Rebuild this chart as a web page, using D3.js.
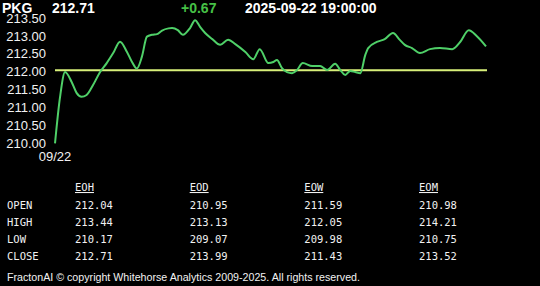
<!DOCTYPE html>
<html>
<head>
<meta charset="utf-8">
<script src="https://cdn.jsdelivr.net/npm/d3@7"></script>
<style>
  body { margin: 0; background: #000; }
  svg { display: block; }
</style>
</head>
<body>
<div id="chart"></div>
<script>
// minutes into the hour (19:00 -> 20:00) and price
var minutes = [0, 0.7, 1.4, 2.3, 3.0, 3.7, 4.4, 5.3, 6.3, 7.2, 8.1, 9.05, 10.0, 10.7, 11.4, 12.1,
  12.8, 13.5, 14.2, 14.9, 15.8, 16.3, 17.1, 17.8, 18.8, 19.5, 20.2, 20.9, 21.9, 23.0, 24.1,
  25.1, 26.5, 27.6, 28.5, 29.7, 30.4, 30.9, 31.6, 32.3, 33.0, 33.7, 34.5, 35.8, 36.9, 37.9,
  39.0, 39.7, 40.4, 41.1, 41.8, 42.5, 43.2, 43.6, 44.8, 45.9, 47.05, 48.0, 48.7, 49.7, 50.8,
  52.2, 53.6, 55.3, 56.4, 57.6, 58.7, 60];
var prices = [210.00, 211.29, 211.99, 211.72, 211.41, 211.30, 211.35, 211.63, 212.00, 212.24,
  212.52, 212.84, 212.56, 212.28, 212.09, 212.42, 212.98, 213.03, 213.05, 213.15, 213.21,
  213.22, 213.16, 213.03, 213.22, 213.44, 213.25, 213.08, 212.91, 212.75, 212.89, 212.77,
  212.55, 212.35, 212.63, 212.24, 212.27, 212.33, 212.10, 211.99, 211.96, 212.05, 212.24,
  212.16, 212.16, 212.05, 212.22, 212.05, 211.91, 212.02, 211.99, 211.96, 212.47, 212.66,
  212.83, 212.91, 213.08, 212.89, 212.75, 212.66, 212.52, 212.63, 212.66, 212.63, 212.83,
  213.16, 213.00, 212.71];

var symbol = "PKG";
var lastPrice = "212.71";
var change = "+0.67";
var stamp = "2025-09-22 19:00:00";
var openPrice = 212.04;

var yTicks = [210.0, 210.5, 211.0, 211.5, 212.0, 212.5, 213.0, 213.5];
var xLabel = "09/22";

// summary table
var periods = ["EOH", "EOD", "EOW", "EOM"];
var rowNames = ["OPEN", "HIGH", "LOW", "CLOSE"];
var openVals = ["212.04", "210.95", "211.59", "210.98"];
var highVals = ["213.44", "213.13", "212.05", "214.21"];
var lowVals = ["210.17", "209.07", "209.98", "210.75"];
var closeVals = ["212.71", "213.99", "211.43", "213.52"];

var footer = "FractonAI \u00a9 copyright Whitehorse Analytics 2009-2025. All rights reserved.";

var width = 540, height = 286;
var margin = {top: 18, left: 55, right: 54, bottom: 143};

var svg = d3.select("#chart").append("svg")
    .attr("width", width)
    .attr("height", height)
    .style("background", "#000");

var x = d3.scaleLinear()
    .domain([0, 60])
    .range([margin.left, width - margin.right]);

var y = d3.scaleLinear()
    .domain([210, 213.5])
    .range([143.3, 18]);

// y labels
svg.append("g").selectAll("text")
    .data(yTicks)
    .enter().append("text")
    .attr("x", 46)
    .attr("y", function(d){ return y(d); })
    .attr("dy", "0.36em")
    .attr("text-anchor", "end")
    .attr("fill", "#f2f2f2")
    .style("font", "13px 'Liberation Sans', Arial, sans-serif")
    .text(function(d){ return d3.format(".2f")(d); });

svg.append("text")
    .attr("x", x(0))
    .attr("y", 161)
    .attr("text-anchor", "middle")
    .attr("fill", "#f2f2f2")
    .style("font", "13px 'Liberation Sans', Arial, sans-serif")
    .text(xLabel);

// open reference line
svg.append("line")
    .attr("x1", x(0))
    .attr("x2", x(60) + 1)
    .attr("y1", y(openPrice))
    .attr("y2", y(openPrice))
    .attr("stroke", "#d8f07a")
    .attr("stroke-width", 2);

// price line
var line = d3.line()
    .x(function(d, i){ return x(minutes[i]); })
    .y(function(d){ return y(d); })
    .curve(d3.curveMonotoneX);

svg.append("path")
    .datum(prices)
    .attr("d", line)
    .attr("fill", "none")
    .attr("stroke", "#4fd068")
    .attr("stroke-width", 2);

// header
var head = svg.append("g")
    .style("font", "bold 14px 'Liberation Sans', Arial, sans-serif");
head.append("text").attr("x", 2).attr("y", 13).attr("fill", "#fff").text(symbol);
head.append("text").attr("x", 52).attr("y", 13).attr("fill", "#fff").text(lastPrice);
head.append("text").attr("x", 181).attr("y", 13).attr("fill", "#46c046").text(change);
head.append("text").attr("x", 245).attr("y", 13).attr("fill", "#fff").text(stamp);

// table
var colX = d3.scalePoint().domain(periods).range([75, 419]);
var rowY = d3.scalePoint().domain(rowNames).range([204.5, 256]);
var tableFont = "10.5px 'DejaVu Sans Mono', 'Liberation Mono', monospace";

var table = svg.append("g").attr("fill", "#f2f2f2").style("font", tableFont);

table.selectAll(".head")
    .data(periods)
    .enter().append("text")
    .attr("class", "head")
    .attr("x", function(d){ return colX(d); })
    .attr("y", 191)
    .style("text-decoration", "underline")
    .text(function(d){ return d; });

table.selectAll(".row")
    .data(rowNames)
    .enter().append("text")
    .attr("class", "row")
    .attr("x", 7)
    .attr("y", function(d){ return rowY(d) + 4; })
    .text(function(d){ return d; });

var cells = [openVals, highVals, lowVals, closeVals];
cells.forEach(function(vals, r){
    table.selectAll(".c" + r)
        .data(vals)
        .enter().append("text")
        .attr("class", "c" + r)
        .attr("x", function(d, i){ return colX(periods[i]); })
        .attr("y", rowY(rowNames[r]) + 4)
        .text(function(d){ return d; });
});

svg.append("text")
    .attr("x", 7)
    .attr("y", 280.5)
    .attr("fill", "#f2f2f2")
    .attr("textLength", 353)
    .attr("lengthAdjust", "spacingAndGlyphs")
    .style("font", "11px 'Liberation Sans', Arial, sans-serif")
    .text(footer);
</script>
</body>
</html>
